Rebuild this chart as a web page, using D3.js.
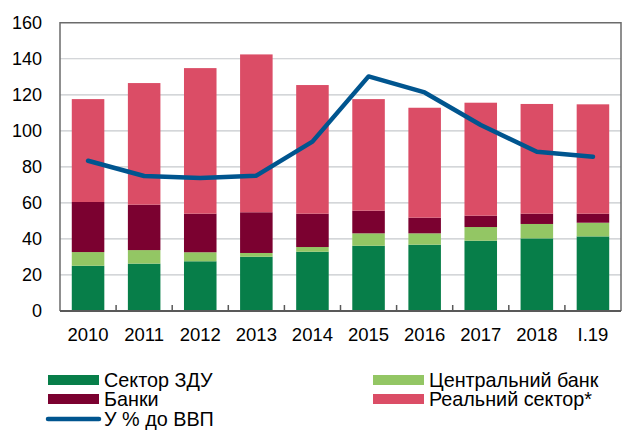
<!DOCTYPE html>
<html>
<head>
<meta charset="utf-8">
<script src="https://cdn.jsdelivr.net/npm/d3@7"></script>
<style>
  body { margin: 0; background: #fff; }
  text { font-family: Arial, "Liberation Sans", sans-serif; fill: #000; }
</style>
</head>
<body>
<script>
var years = ["2010", "2011", "2012", "2013", "2014", "2015", "2016", "2017", "2018", "I.19"];

// stacked components, bn USD
var sectorZDU = [25.1, 26.3, 27.6, 30.1, 32.9, 36.2, 36.8, 39.0, 40.3, 41.4];
var centralBank = [7.6, 7.5, 5.0, 2.1, 2.6, 6.9, 6.3, 7.6, 8.0, 7.6];
var banks = [27.8, 25.2, 21.4, 22.6, 18.5, 12.6, 8.7, 6.3, 5.7, 5.0];
var realSector = [57.1, 67.5, 80.8, 87.6, 71.4, 61.9, 61.0, 62.7, 60.9, 60.7];

var pctGDP = [83.4, 74.9, 73.8, 75.1, 94.0, 130.2, 121.3, 103.2, 88.4, 85.6];

var yTicks = [0, 20, 40, 60, 80, 100, 120, 140, 160];

var keys = ["zdu", "cb", "banks", "real"];
var colors = {zdu: "#077e49", cb: "#93c664", banks: "#7b0130", real: "#db4d66"};
var lineColor = "#00558f";

var rows = years.map(function(y, i) {
  return {year: y, zdu: sectorZDU[i], cb: centralBank[i], banks: banks[i], real: realSector[i], pct: pctGDP[i]};
});

var width = 622, height = 430;
var mLeft = 60, mRight = 621, mTop = 22.7, mBottom = 311;

var svg = d3.select("body").append("svg")
    .attr("width", width)
    .attr("height", height);

var x = d3.scaleBand()
    .domain(years)
    .range([mLeft, mRight])
    .paddingInner(0.42)
    .paddingOuter(0.21);

var xEdge = d3.scaleBand().domain(years).range([mLeft, mRight]);

var y = d3.scaleLinear()
    .domain([0, 160])
    .range([mBottom, mTop]);

// grid
svg.append("g")
  .selectAll("line")
    .data(yTicks.slice(1, -1))
  .enter().append("line")
    .attr("x1", mLeft).attr("x2", mRight)
    .attr("y1", function(d) { return y(d); })
    .attr("y2", function(d) { return y(d); })
    .attr("stroke", "#c6c9cc")
    .attr("stroke-width", 1.2);

// bars
var series = d3.stack().keys(keys)(rows);

svg.append("g")
  .selectAll("g")
    .data(series)
  .enter().append("g")
    .attr("fill", function(d) { return colors[d.key]; })
  .selectAll("rect")
    .data(function(d) { return d; })
  .enter().append("rect")
    .attr("x", function(d) { return x(d.data.year); })
    .attr("width", x.bandwidth())
    .attr("y", function(d) { return y(d[1]); })
    .attr("height", function(d) { return y(d[0]) - y(d[1]); });

// frame
svg.append("path")
    .attr("d", "M" + mLeft + "," + mBottom + "V" + mTop + "H" + mRight + "V" + mBottom)
    .attr("fill", "none")
    .attr("stroke", "#6b6b6b")
    .attr("stroke-width", 1.5);

// x axis with inner ticks between categories
svg.append("line")
    .attr("x1", mLeft).attr("x2", mRight)
    .attr("y1", mBottom).attr("y2", mBottom)
    .attr("stroke", "#595959")
    .attr("stroke-width", 2);

svg.append("g")
  .selectAll("line")
    .data(years.slice(1))
  .enter().append("line")
    .attr("x1", function(d) { return xEdge(d); })
    .attr("x2", function(d) { return xEdge(d); })
    .attr("y1", mBottom).attr("y2", mBottom - 6)
    .attr("stroke", "#595959")
    .attr("stroke-width", 1.5);

svg.append("g")
  .selectAll("text")
    .data(years)
  .enter().append("text")
    .attr("x", function(d) { return x(d) + x.bandwidth() / 2; })
    .attr("y", 335)
    .attr("dy", "0.35em")
    .attr("text-anchor", "middle")
    .style("font-size", "18.5px")
    .text(function(d) { return d; });

// y labels
svg.append("g")
  .selectAll("text")
    .data(yTicks)
  .enter().append("text")
    .attr("x", 42)
    .attr("y", function(d) { return y(d); })
    .attr("dy", "0.35em")
    .attr("text-anchor", "end")
    .style("font-size", "18px")
    .text(function(d) { return d; });

// line
var line = d3.line()
    .x(function(d) { return x(d.year) + x.bandwidth() / 2; })
    .y(function(d) { return y(d.pct); });

svg.append("path")
    .datum(rows)
    .attr("d", line)
    .attr("fill", "none")
    .attr("stroke", lineColor)
    .attr("stroke-width", 4.5)
    .attr("stroke-linejoin", "round")
    .attr("stroke-linecap", "round");

// legend
var legend = [
  {label: "Сектор ЗДУ", key: "zdu", x: 48, y: 380},
  {label: "Центральний банк", key: "cb", x: 373, y: 380},
  {label: "Банки", key: "banks", x: 48, y: 399},
  {label: "Реальний сектор*", key: "real", x: 373, y: 399}
];

var lg = svg.append("g");
legend.forEach(function(d) {
  lg.append("rect")
      .attr("x", d.x).attr("y", d.y - 5)
      .attr("width", 51).attr("height", 10)
      .attr("fill", colors[d.key]);
  lg.append("text")
      .attr("x", d.x + 56).attr("y", d.y)
      .attr("dy", "0.35em")
      .style("font-size", "19.8px")
      .text(d.label);
});

lg.append("line")
    .attr("x1", 48).attr("x2", 99)
    .attr("y1", 419).attr("y2", 419)
    .attr("stroke", lineColor)
    .attr("stroke-width", 4.5)
    .attr("stroke-linecap", "round");
lg.append("text")
    .attr("x", 104).attr("y", 419)
    .attr("dy", "0.35em")
    .style("font-size", "19.8px")
    .text("У % до ВВП");
</script>
</body>
</html>
